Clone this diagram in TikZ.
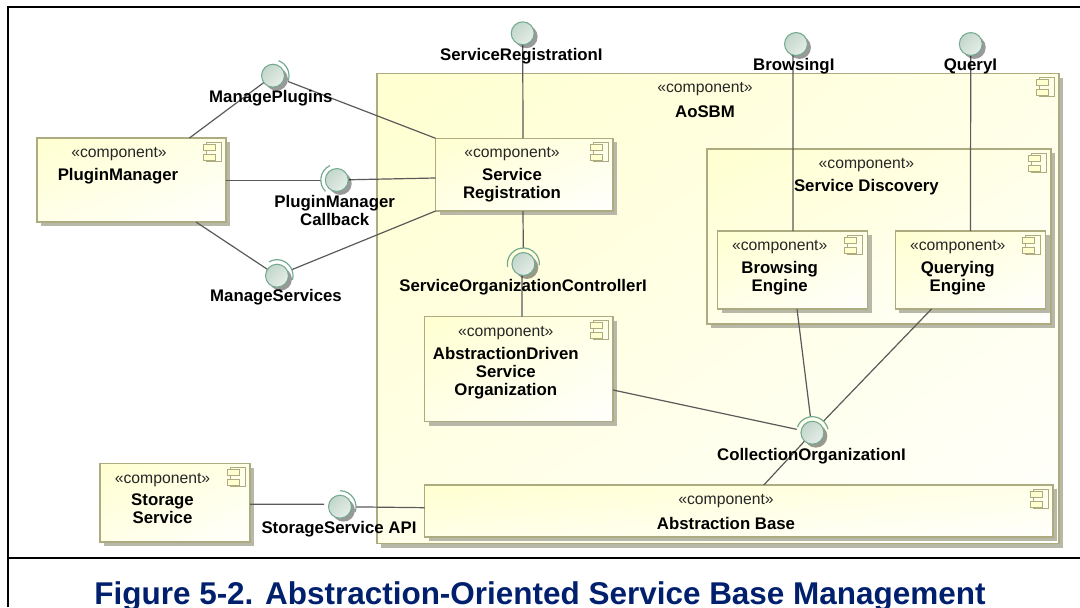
\documentclass[tikz,border=0pt]{standalone}
\usepackage{fontspec}
\setmainfont{Liberation Sans}
\usetikzlibrary{shadows,shadings}
\pgfdeclarelayer{boxlayer}
\pgfdeclarelayer{linelayer}
\pgfsetlayers{boxlayer,linelayer,main}
\definecolor{boxedge}{HTML}{ACAC80}
\definecolor{boxyellow}{HTML}{FFFFD0}
\definecolor{boxmid}{HTML}{FFFFE8}
\definecolor{boxlight}{HTML}{FFFFFC}
\definecolor{shadowc}{HTML}{B8B8A8}
\definecolor{linec}{HTML}{5A5A5A}
\definecolor{ifaceedge}{HTML}{74AA92}
\definecolor{ifacedark}{HTML}{BCD2C6}
\definecolor{ifacemid}{HTML}{D4E2DA}
\definecolor{ifacelight}{HTML}{EEF2EE}
\definecolor{titleblue}{HTML}{00206E}
\tikzset{
  x=.75pt,y=-.75pt,
  compbox/.style={draw=boxedge,line width=.8pt,rectangle,inner sep=0pt,outer sep=0pt,shade,
    upper left=boxyellow,upper right=boxmid,lower left=boxmid,lower right=boxlight,
    drop shadow={shadow xshift=3pt,shadow yshift=-3pt,fill=shadowc,opacity=1}},
  stereo/.style={inner sep=0pt,yshift=-1.8pt,font=\fontsize{11.8pt}{13.5pt}\selectfont,text=black!85},
  cname/.style={inner sep=0pt,yshift=-1.8pt,align=center,font=\bfseries\fontsize{12.6pt}{13.5pt}\selectfont,text=black},
  conn/.style={draw=linec,line width=.9pt},
  arcstart/.style={shorten <=12pt},
  arcend/.style={shorten >=12pt},
  iface/.style={circle,draw=ifaceedge,line width=.8pt,minimum size=17.2pt,inner sep=0pt,outer sep=0pt,shade,
    upper left=ifacedark,upper right=ifacemid,lower left=ifacemid,lower right=ifacelight,
    general shadow={shadow xshift=2.6pt,shadow yshift=-2.6pt,fill=black,opacity=.4}},
  ifacearc/.style={draw=ifaceedge,line width=.9pt},
  iconline/.style={draw=boxedge,line width=.75pt},
  frameline/.style={draw=black,line width=1.9pt},
}
\newcommand{\compbox}[5]{%
  \pgfmathsetmacro{\bw}{(#4-#2)*.75}\pgfmathsetmacro{\bh}{(#5-#3)*.75}%
  \node[compbox,minimum width=\bw pt,minimum height=\bh pt] (#1) at ({(#2+#4)/2},{(#3+#5)/2}) {};
  \draw[iconline] ([shift={(-20,4)}]#1.north east) rectangle ([shift={(-5,23)}]#1.north east);
  \draw[iconline,fill=boxyellow] ([shift={(-23,6)}]#1.north east) rectangle ([shift={(-11,12)}]#1.north east);
  \draw[iconline,fill=boxyellow] ([shift={(-23,16)}]#1.north east) rectangle ([shift={(-11,22)}]#1.north east);
}
\newcommand{\ifacearcdraw}[3]{%
  \draw[ifacearc] ([shift={(#2:12pt)}]#1.center) arc[start angle=#2,end angle=#3,radius=12pt];
}
\begin{document}
\begin{tikzpicture}
\useasboundingbox (0,0) rectangle (1080,607);

\begin{pgfonlayer}{boxlayer}
  \compbox{aosbm}{377}{73.7}{1059}{543.7}
  \compbox{sd}{707}{149}{1051}{324}
  \compbox{be}{717.7}{231}{867.5}{309}
  \compbox{qe}{895.4}{231}{1045.5}{309}
  \compbox{sr}{435.6}{138.3}{613}{211}
  \compbox{ad}{424.6}{316.7}{613}{421.7}
  \compbox{ab}{424.6}{485}{1053}{537}
  \compbox{pm}{37}{138}{226}{222}
  \compbox{ss}{100}{463.7}{250}{542}
\end{pgfonlayer}

% interfaces
\node[iface] (sri) at (522.7,33.3) {};
\node[iface] (bi) at (796,44) {};
\node[iface] (qi) at (970.8,44) {};
\node[iface] (mp) at (273,75.7) {};
\node[iface] (cb) at (336.8,180) {};
\node[iface] (ms) at (277,275.7) {};
\node[iface] (soc) at (523.4,264) {};
\node[iface] (coi) at (812.4,432.7) {};
\node[iface] (api) at (340,506.7) {};
\ifacearcdraw{mp}{70}{-20}
\ifacearcdraw{cb}{115}{225}
\ifacearcdraw{ms}{120}{-15}
\ifacearcdraw{soc}{190}{-5}
\ifacearcdraw{coi}{160}{13}
\ifacearcdraw{api}{90}{-20}

% connectors
\begin{pgfonlayer}{linelayer}
  \draw[conn] ([shift={(152.4,0)}]pm.north west) -- (mp.center);
  \draw[conn,arcstart] (mp.center) -- (sr.north west);
  \draw[conn,arcend] ([shift={(0,42.5)}]pm.north east) -- ([shift={(0,.5)}]cb.center);
  \draw[conn] (cb.center) -- ([shift={(0,39.7)}]sr.north west);
  \draw[conn] ([shift={(159,0)}]pm.south west) -- (ms.center);
  \draw[conn,arcstart] (ms.center) -- (sr.south west);
  \draw[conn] (sri.center) -- ([shift={(87.4,0)}]sr.north west);
  \draw[conn,arcend] ([shift={(87.4,0)}]sr.south west) -- (soc.center);
  \draw[conn] ([shift={(-1.4,0)}]soc.center) -- ([shift={(97.4,0)}]ad.north west);
  \draw[conn] ([shift={(-3,0)}]bi.center) -- ([shift={(75.3,0)}]be.north west);
  \draw[conn] (qi.center) -- ([shift={(75,0)}]qe.north west);
  \draw[conn,arcend] ([shift={(79.3,0)}]be.south west) -- (coi.center);
  \draw[conn,arcend] ([shift={(36.1,0)}]qe.south west) -- (coi.center);
  \draw[conn,arcend] ([shift={(0,73.3)}]ad.north east) -- (coi.center);
  \draw[conn] (coi.center) -- ([shift={(339.2,0)}]ab.north west);
  \draw[conn,arcend] ([shift={(0,40.6)}]ss.north east) -- ([shift={(0,-2.4)}]api.center);
  \draw[conn,arcstart] (api.center) -- ([shift={(0,22.7)}]ab.north west);
\end{pgfonlayer}

% frame
\coordinate (frameTL) at (8,7);
\coordinate (frameTR) at (1080,7);
\coordinate (frameBL) at (8,607);
\coordinate (divL) at (8,558);
\coordinate (divR) at (1080,558);
\draw[frameline] (frameBL) -- (frameTL) -- (frameTR);
\draw[frameline] (divL) -- (divR);

% box texts
\node[stereo] (t1) at (705,87) {«component»};
\node[cname] (n1) at (705,109) {AoSBM};
\node[stereo] (t2) at (866.4,163) {«component»};
\node[cname] (n2) at (866.4,184.7) {Service Discovery};
\node[stereo] (t3) at (779.7,245) {«component»};
\node[cname,anchor=north] (n3) at (779.7,259) {Browsing\\Engine};
\node[stereo] (t4) at (957.7,245) {«component»};
\node[cname,anchor=north] (n4) at (957.7,259) {Querying\\Engine};
\node[stereo] (t5) at (512,152) {«component»};
\node[cname,anchor=north] (n5) at (512,165.5) {Service\\Registration};
\node[stereo] (t6) at (505.8,330.7) {«component»};
\node[cname,anchor=north] (n6) at (505.8,344.5) {AbstractionDriven\\Service\\Organization};
\node[stereo] (t7) at (726,499) {«component»};
\node[cname] (n7) at (726,520.7) {Abstraction Base};
\node[stereo] (t8) at (119,152) {«component»};
\node[cname] (n8) at (118,174) {PluginManager};
\node[stereo] (t9) at (162.5,477.7) {«component»};
\node[cname,anchor=north] (n9) at (162.5,491.5) {Storage\\Service};

% interface labels
\node[cname] (l1) at (270.8,96) {ManagePlugins};
\node[cname,anchor=north] (l2) at (334.7,192.5) {PluginManager\\Callback};
\node[cname] (l3) at (276,295) {ManageServices};
\node[cname] (l4) at (521.4,53.7) {ServiceRegistrationI};
\node[cname] (l5) at (793.8,64) {BrowsingI};
\node[cname] (l6) at (970.4,64) {QueryI};
\node[cname] (l7) at (523,285) {ServiceOrganizationControllerI};
\node[cname] (l8) at (811.4,453.3) {CollectionOrganizationI};
\node[cname] (l9) at (339,526.7) {StorageService API};

% title
\node[anchor=base,inner sep=0pt,text=titleblue,font=\bfseries\fontsize{23.6pt}{28pt}\selectfont] (title) at (540,604) {Figure 5-2. Abstraction-Oriented Service Base Management};
\end{tikzpicture}
\end{document}
